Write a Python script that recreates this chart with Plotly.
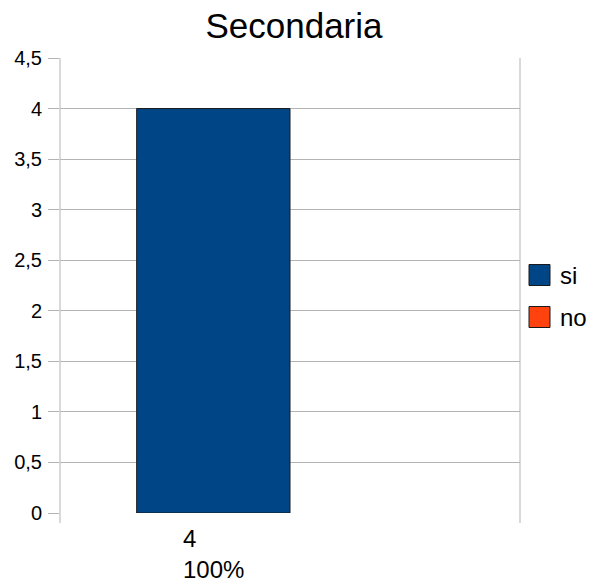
import plotly.graph_objects as go

title = "Secondaria"
categories = ["4<br>100%"]
series_names = ["si", "no"]
series_values = [[4], [0]]
series_colors = ["#004586", "#ff420e"]
y_ticks = [0, 0.5, 1, 1.5, 2, 2.5, 3, 3.5, 4, 4.5]
y_tick_labels = ["0", "0,5", "1", "1,5", "2", "2,5", "3", "3,5", "4", "4,5"]

FONT = "Liberation Sans"
W, H = 593, 586
ml, mr, mt, mb = 60, 73, 58, 73
bargap = 1 / 3
plot_w = W - ml - mr
plot_h = H - mt - mb

fig = go.Figure()
for name, vals, col in zip(series_names, series_values, series_colors):
    fig.add_trace(go.Bar(
        x=list(range(len(vals))), y=vals, name=name,
        marker=dict(color=col, line=dict(color="#1a1a1a",
                                         width=[1 if v else 0 for v in vals])),
        showlegend=False, hoverinfo="skip",
    ))

# category label under the first series bar
nser = len(series_names)
bar_w = plot_w * (1 - bargap) / nser
for i, lab in enumerate(categories):
    fig.add_annotation(
        x=i, y=0, xref="x", yref="y", text=lab, showarrow=False,
        xanchor="center", yanchor="top", align="left",
        xshift=-(nser - 1) * bar_w / 2, yshift=-10,
        font=dict(family=FONT, size=24, color="#000"),
    )

# extended boundary lines
for xp in (0, 1):
    fig.add_shape(type="line", xref="paper", yref="paper", x0=xp, x1=xp,
                  y0=-10 / plot_h, y1=1, line=dict(color="#b3b3b3", width=1))

# legend drawn manually
leg_y = [275, 317]
for name, col, yy in zip(series_names, series_colors, leg_y):
    fig.add_shape(type="rect", xref="paper", yref="paper",
                  x0=(529 - ml) / plot_w, x1=(550 - ml) / plot_w,
                  y0=(H - mb - (yy + 10.5)) / plot_h,
                  y1=(H - mb - (yy - 10.5)) / plot_h,
                  fillcolor=col, line=dict(color="#1a1a1a", width=1))
    fig.add_annotation(xref="paper", yref="paper",
                       x=(558 - ml) / plot_w, y=(H - mb - yy) / plot_h,
                       text=name, showarrow=False, xanchor="left", yanchor="middle",
                       font=dict(family=FONT, size=24, color="#000"))

fig.update_layout(
    width=W, height=H,
    margin=dict(l=ml, r=mr, t=mt, b=mb),
    paper_bgcolor="white", plot_bgcolor="white",
    bargap=bargap, bargroupgap=0, barmode="group",
    title=dict(text=title, x=294 / W, xanchor="center", y=1 - 26 / H, yanchor="middle",
               font=dict(family=FONT, size=35, color="#000")),
    font=dict(family=FONT, size=20, color="#000"),
    showlegend=False,
)
fig.update_xaxes(range=[-0.5, len(categories) - 0.5], showticklabels=False,
                 showgrid=False, zeroline=False, showline=False, ticks="")
fig.update_yaxes(range=[0, 4.5], tickvals=y_ticks, ticktext=y_tick_labels,
                 showgrid=True, gridcolor="#b3b3b3", gridwidth=1,
                 zeroline=False, showline=False, automargin=False,
                 ticks="outside", ticklen=11, tickcolor="#b3b3b3", ticklabelstandoff=2,
                 tickfont=dict(family=FONT, size=20, color="#000"))

fig.write_html("out.html", config={"displayModeBar": False},
               post_script="document.body.style.margin='0px';")
